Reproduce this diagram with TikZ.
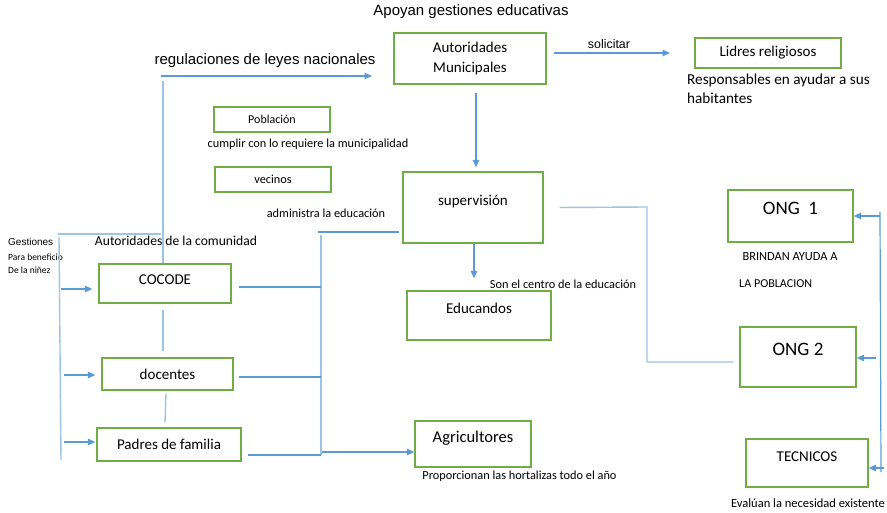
\documentclass[tikz,border=0pt]{standalone}
\usepackage{fontspec}
\setmainfont{Carlito}
\newfontfamily\arial{Liberation Sans}
\usetikzlibrary{positioning, arrows.meta}
\definecolor{boxgreen}{RGB}{112,173,71}
\definecolor{linkblue}{RGB}{91,155,213}
\definecolor{paleblue}{RGB}{157,195,230}
\tikzset{
        x=1pt, y=-1pt, % one unit is one pixel of the sheet, y going down
        box/.style={draw=boxgreen, line width=1.3pt, inner sep=0pt, fill=white, font=\fontsize{15}{20}\selectfont}, % green boxes
        uptext/.style={text height=10pt, text depth=13pt}, % text sits near the top of tall boxes
        link/.style={draw=linkblue, line width=1.2pt}, % plain blue lines
        pale/.style={draw=paleblue, line width=1.4pt}, % light blue lines
        arr/.style={link, -{Triangle[length=7.5pt,width=6.5pt]}}, % blue arrows
        note/.style={inner sep=0pt, font=\fontsize{12.3}{14}\selectfont}, % free texts
}

\begin{document}
\begin{tikzpicture}
        \useasboundingbox (0,0) rectangle (887,513);
        % boxes
        \node[box, minimum width=152pt, minimum height=51pt, align=center] (Muni) at (470,58.5) {Autoridades\\Municipales};
        \node[box, minimum width=146pt, minimum height=30pt] (Lideres) at (768,53) {Lidres religiosos};
        \node[box, minimum width=116pt, minimum height=25pt, font=\fontsize{12}{14}\selectfont] (Poblacion) at (272,119.5) {Población};
        \node[box, minimum width=116pt, minimum height=25pt, font=\fontsize{12.3}{14}\selectfont] (Vecinos) at (273,179.5) {vecinos};
        \node[box, uptext, minimum width=140pt, minimum height=71pt] (Sup) at (473,207.5) {supervisión};
        \node[box, uptext, minimum width=144pt, minimum height=49pt] (Edu) at (479,315.5) {Educandos};
        \node[box, uptext, minimum width=125pt, minimum height=52pt, font=\fontsize{19}{21}\selectfont] (Ong1) at (790.5,216) {ONG\ \ 1};
        \node[box, uptext, minimum width=116pt, minimum height=60pt, font=\fontsize{19}{21}\selectfont] (Ong2) at (798,357) {ONG 2};
        \node[box, uptext, minimum width=122pt, minimum height=48pt] (Tec) at (807,463) {TECNICOS};
        \node[box, uptext, minimum width=116pt, minimum height=46pt, font=\fontsize{16.5}{18}\selectfont] (Agri) at (473,444) {Agricultores};
        \node[box, minimum width=132pt, minimum height=39pt, text height=10pt, text depth=8pt] (Cocode) at (165,283.5) {COCODE};
        \node[box, minimum width=131pt, minimum height=32pt] (Docentes) at (167.5,374) {docentes};
        \node[box, minimum width=144pt, minimum height=33pt] (Padres) at (169,444.5) {Padres de familia};

        % texts
        \node[note, font=\arial\fontsize{15}{17}\selectfont] (Apoyan) at (471,12) {Apoyan gestiones educativas};
        \node[note, font=\arial\fontsize{12.4}{14}\selectfont] (Solicitar) at (609,44) {solicitar};
        \node[note, font=\fontsize{15.2}{19}\selectfont, align=left, anchor=west] (Resp) at (687,88.5) {Responsables en ayudar a sus\\habitantes};
        \node[note, font=\arial\fontsize{15}{17}\selectfont] (Regul) at (265,61) {regulaciones de leyes nacionales};
        \node[note] (Cumplir) at (308,144) {cumplir con lo requiere la municipalidad};
        \node[note] (Administra) at (326,213) {administra la educación};
        \node[note, font=\fontsize{13.6}{15}\selectfont] (Comunidad) at (176,241) {Autoridades de la comunidad};
        \node[note, font=\arial\fontsize{10}{12}\selectfont, anchor=west] (Gestiones) at (8,242) {Gestiones};
        \node[note, font=\fontsize{9.5}{13}\selectfont, align=left, anchor=west] (Nines) at (8,263.5) {Para beneficio\\De la niñez};
        \node[note] (Centro) at (563,284) {Son el centro de la educación};
        \node[note, font=\fontsize{12.4}{14}\selectfont] (Brindan) at (790,257) {BRINDAN AYUDA A};
        \node[note, font=\fontsize{12.1}{14}\selectfont, anchor=west] (Poblac) at (739,284) {LA POBLACION};
        \node[note] (Hortalizas) at (519.5,476) {Proporcionan las hortalizas todo el año};
        \node[note, font=\fontsize{12.5}{14}\selectfont] (Evaluan) at (808,503) {Evalúan la necesidad existente};

        % free ends of the lines
        \coordinate (solA) at (554,53);
        \coordinate (solB) at (670,53);
        \coordinate (regA) at (161,76);
        \coordinate (regB) at (372,76);
        \coordinate (regC) at (163,81);
        \coordinate (gesA) at (58,234);
        \coordinate (gesB) at (59,237);
        \coordinate (gesC) at (61,460);
        \coordinate (supL) at (318,232);
        \coordinate (busT) at (321,235);
        \coordinate (busB) at (321,455);
        \coordinate (supR) at (647,207);
        \coordinate (ongV) at (880,212);
        \coordinate (ongW) at (881,472);

        % arrows
        \draw[arr] (solA) -- (solB);
        \draw[arr] (regA) -- (regB);
        \draw[arr] ([xshift=6pt,yshift=-8pt]Muni.south) -- ([xshift=3pt,yshift=4pt]Sup.north);
        \draw[arr] ([xshift=1pt]Sup.south) -- ([xshift=-5pt,yshift=12pt]Edu.north);
        \draw[arr] (ongV |- Ong1.east) -- (Ong1.east);
        \draw[arr] ([xshift=19pt,yshift=-1pt]Ong2.east) -- ([yshift=-1pt]Ong2.east);
        \draw[arr] ([xshift=15pt,yshift=-5pt]Tec.east) -- ([yshift=-5pt]Tec.east);
        \draw[arr] ([xshift=-37pt,yshift=-5.5pt]Cocode.west) -- ([xshift=-6pt,yshift=-5.5pt]Cocode.west);
        \draw[arr] ([xshift=-37pt,yshift=-1pt]Docentes.west) -- ([xshift=-6pt,yshift=-1pt]Docentes.west);
        \draw[arr] ([xshift=-32pt,yshift=2.5pt]Padres.west) -- ([xshift=-1pt,yshift=2.5pt]Padres.west);
        \draw[arr] ([yshift=3pt]busB) -- ([yshift=-8pt]Agri.west);

        % lines
        \draw[link] (ongV) -- (ongW);
        \draw[pale] (regC) -- (Cocode.north -| regC);
        \draw[pale] (gesA) -- (gesA -| regA);
        \draw[pale] (gesB) -- (gesC);
        \draw[link] ([xshift=-3pt,yshift=-24.5pt]Sup.west) -- (supL);
        \draw[pale] (busT) -- (busB);
        \draw[link] ([xshift=7pt,yshift=-3.5pt]Cocode.east) -- (busT |- {(0,287)});
        \draw[link] ([xshift=5pt,yshift=-3pt]Docentes.east) -- (busT |- {(0,377)});
        \draw[link] ([xshift=6pt,yshift=-10.5pt]Padres.east) -- (busB);
        \draw[pale] ([xshift=-2pt,yshift=-6pt]Cocode.south) -- ([xshift=-4.5pt,yshift=6pt]Docentes.north);
        \draw[pale] ([xshift=-1.5pt,yshift=-3pt]Docentes.south) -- ([xshift=-4pt,yshift=5pt]Padres.north);
        \draw[pale] ([xshift=16pt]Sup.east) -- (supR) -- (supR |- {(0,362)}) -- ([xshift=-6pt,yshift=-5pt]Ong2.west);
\end{tikzpicture}
\end{document}
